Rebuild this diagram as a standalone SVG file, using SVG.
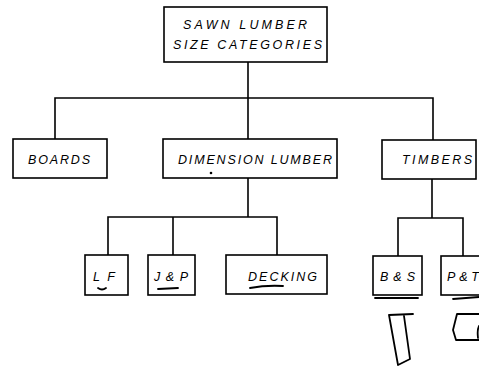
<svg xmlns="http://www.w3.org/2000/svg" width="479" height="368" viewBox="0 0 479 368">
<style>
.box{fill:#fff;stroke:#000;stroke-width:1.6}
.ln{fill:none;stroke:#000;stroke-width:1.6}
.mark{fill:none;stroke:#000;stroke-width:1.8;stroke-linecap:round;stroke-linejoin:round}
text{font-family:"Liberation Sans",Arial,sans-serif;font-style:italic;font-size:12.5px;fill:#000}
</style>
<rect width="479" height="368" fill="#fff"/>
<g id="connectors">
<path class="ln" d="M248 62V139"/>
<path class="ln" d="M55 139V98H433V140"/>
<path class="ln" d="M248 178V217"/>
<path class="ln" d="M108 255V217H277V255"/>
<path class="ln" d="M173 217V255"/>
<path class="ln" d="M432 179V218"/>
<path class="ln" d="M398 256V218H463V256"/>
</g>
<g id="root">
<rect class="box" x="164" y="7" width="163" height="55"/>
<text x="183" y="29" textLength="124" lengthAdjust="spacing">SAWN LUMBER</text>
<text x="173" y="49" textLength="149" lengthAdjust="spacing">SIZE CATEGORIES</text>
</g>
<g id="boards">
<rect class="box" x="13" y="139" width="94" height="39"/>
<text x="28" y="164" textLength="62" lengthAdjust="spacing">BOARDS</text>
</g>
<g id="dimension">
<rect class="box" x="163" y="139" width="174" height="39"/>
<text x="178" y="164" textLength="154" lengthAdjust="spacing">DIMENSION LUMBER</text>
<circle cx="211" cy="173" r="1.3" fill="#000"/>
</g>
<g id="timbers">
<rect class="box" x="382" y="140" width="94" height="39"/>
<text x="402" y="164" textLength="70" lengthAdjust="spacing">TIMBERS</text>
</g>
<g id="lf">
<rect class="box" x="85" y="255" width="43" height="40"/>
<text x="93" y="281" textLength="22" lengthAdjust="spacing">LF</text>
<path class="mark" d="M98 288Q102 291 106 288"/>
</g>
<g id="jp">
<rect class="box" x="148" y="255" width="47" height="40"/>
<text x="154" y="281" textLength="34" lengthAdjust="spacing">J&amp;P</text>
<path class="mark" d="M158 289L178 288"/>
</g>
<g id="decking">
<rect class="box" x="226" y="255" width="101" height="39"/>
<text x="248" y="281" textLength="69" lengthAdjust="spacing">DECKING</text>
<path class="mark" d="M250 288Q266 285 283 286"/>
</g>
<g id="bs">
<rect class="box" x="373" y="256" width="49" height="39"/>
<text x="380" y="281" textLength="35" lengthAdjust="spacing">B&amp;S</text>
<path class="mark" d="M375 298L418 298"/>
<path class="mark" d="M389 315L413 314M389 315L398 365L410 359L404 316"/>
</g>
<g id="pt">
<rect class="box" x="441" y="256" width="42" height="39"/>
<text x="447" y="281" textLength="32" lengthAdjust="spacing">P&amp;T</text>
<path class="mark" d="M453 299L479 297"/>
<path class="mark" d="M479 314H457L455 322L453 330L456 340H479"/>
<path class="mark" d="M479 326Q477 330 478 338"/>
</g>
</svg>
